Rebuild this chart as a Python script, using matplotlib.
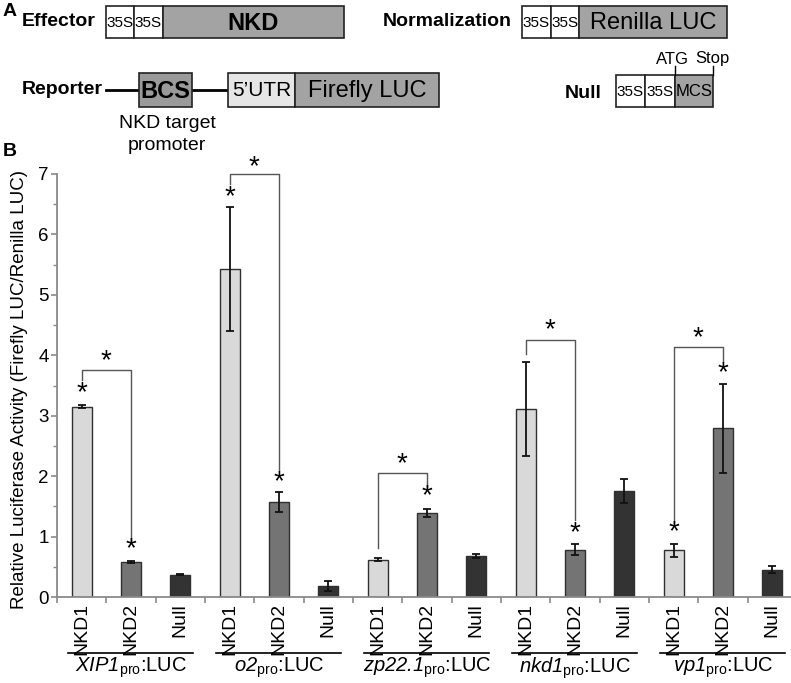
import numpy as np
import matplotlib
matplotlib.use("Agg")
from matplotlib import pyplot as plt
from matplotlib.patches import Rectangle

plt.rcParams['font.family'] = ['Liberation Sans', 'DejaVu Sans']
plt.rcParams['mathtext.fontset'] = 'custom'
plt.rcParams['mathtext.rm'] = 'Liberation Sans'
plt.rcParams['mathtext.sf'] = 'Liberation Sans:italic'

# ---- data ----
promoters = [r'$\mathsf{XIP1}_{\mathrm{pro}}$:LUC', r'$\mathsf{o2}_{\mathrm{pro}}$:LUC',
             r'$\mathsf{zp22.1}_{\mathrm{pro}}$:LUC', r'$\mathsf{nkd1}_{\mathrm{pro}}$:LUC',
             r'$\mathsf{vp1}_{\mathrm{pro}}$:LUC']
effectors = ['NKD1', 'NKD2', 'Null']
nkd1_vals = [3.15, 5.43, 0.62, 3.11, 0.77]
nkd1_err = [0.03, 1.02, 0.03, 0.78, 0.11]
nkd2_vals = [0.58, 1.57, 1.39, 0.78, 2.79]
nkd2_err = [0.02, 0.17, 0.06, 0.09, 0.74]
null_vals = [0.37, 0.18, 0.68, 1.75, 0.45]
null_err = [0.01, 0.08, 0.03, 0.20, 0.06]
bar_colors = ['#d9d9d9', '#747474', '#333333']

# significance: (left bar, right bar, bracket top, left leg end, right leg end)
brackets = [(0, 1, 3.75, 3.59, 0.91), (3, 4, 7.0, 6.84, 2.10), (6, 7, 2.05, 0.81, 1.82),
            (9, 10, 4.26, 4.02, 1.27), (12, 13, 4.13, 1.22, 3.89)]
star_bars = [0, 1, 3, 4, 7, 10, 12, 13]
star_y = [3.37, 0.79, 6.62, 1.90, 1.66, 1.06, 1.08, 3.71]
top_star_y = [3.90, 7.12, 2.20, 4.41, 4.28]

W, H = 791, 683
fig = plt.figure(figsize=(W / 100, H / 100), dpi=100)

# ---- panel B: bar chart ----
ax = fig.add_axes([57 / W, (H - 597) / H, 740 / W, 423 / H])
ax.patch.set_alpha(0)
vals = np.array([nkd1_vals, nkd2_vals, null_vals]).T.ravel()
errs = np.array([nkd1_err, nkd2_err, null_err]).T.ravel()
cols = bar_colors * len(promoters)
x = np.arange(len(vals))
ax.bar(x, vals, width=0.41, color=cols, edgecolor='#303030', linewidth=1.0, zorder=2)
ax.errorbar(x, vals, yerr=errs, fmt='none', ecolor='#111111', elinewidth=1.3,
            capsize=3, capthick=1.3, zorder=3)

ax.set_xlim(-0.5, len(vals) - 0.5)
ax.set_ylim(0, 7)
for s in ['top', 'right']:
    ax.spines[s].set_visible(False)
for s in ['left', 'bottom']:
    ax.spines[s].set_color('#8a8a8a')
    ax.spines[s].set_linewidth(1.3)
ax.set_yticks(range(8))
ax.set_yticks(np.arange(0.5, 7, 1), minor=True)
ax.tick_params(axis='y', which='major', length=4, width=1.2, color='#8a8a8a', pad=2, labelsize=13.5)
ax.tick_params(axis='y', which='minor', length=3, width=1.0, color='#8a8a8a')
ax.set_xticks(np.arange(-0.5, len(vals), 1))
ax.set_xticklabels([])
ax.tick_params(axis='x', which='major', length=4, width=1.2, color='#8a8a8a')
for i in x:
    ax.text(i, -0.015, effectors[i % 3], transform=ax.get_xaxis_transform(),
            rotation=90, ha='center', va='top', fontsize=14)
ax.set_ylabel('Relative Luciferase Activity (Firefly LUC/Renilla LUC)', fontsize=13.5)
ax.yaxis.set_label_coords((28 - 57) / 740, 0.49)

for g, name in enumerate(promoters):
    c0 = 3 * g
    ax.plot([c0 - 0.28, c0 + 2.25], [-0.132, -0.132], color='black', lw=1.2,
            transform=ax.get_xaxis_transform(), clip_on=False)
    ax.text(c0 + 1, -0.168, name, transform=ax.get_xaxis_transform(),
            ha='center', va='center', fontsize=14.5)

for a, b, top, ya, yb in brackets:
    ax.plot([a, a, b, b], [ya, top, top, yb], color='#555555', lw=1.0, zorder=1, clip_on=False)
for b, y in zip(star_bars, star_y):
    ax.text(b, y, '*', ha='center', va='center', fontsize=20, zorder=4)
for (a, b, top, ya, yb), y in zip(brackets, top_star_y):
    ax.text((a + b) / 2, y, '*', ha='center', va='center', fontsize=20, zorder=4, clip_on=False)

# ---- panel A: construct diagrams (pixel coordinates) ----
da = fig.add_axes([0, 0, 1, 1], zorder=-1)
da.set_xlim(0, W)
da.set_ylim(H, 0)
da.axis('off')


def box(x0, x1, y0, y1, fc, label, fs, bold=False):
    da.add_patch(Rectangle((x0, y0), x1 - x0, y1 - y0, fc=fc, ec='#222222', lw=1.2, zorder=2))
    da.text((x0 + x1) / 2, (y0 + y1) / 2 + 1, label, ha='center', va='center', fontsize=fs,
            fontweight='bold' if bold else 'normal', zorder=3)


fig.text(3 / W, 1 - 11 / H, 'A', fontsize=14, fontweight='bold', va='center')
fig.text(3 / W, 1 - 152 / H, 'B', fontsize=14, fontweight='bold', va='center')

da.text(22, 21, 'Effector', fontsize=14, fontweight='bold', va='center')
box(106, 134, 6, 38, 'white', '35S', 11)
box(134, 163, 6, 38, 'white', '35S', 11)
box(163, 344, 6, 38, '#a3a3a3', 'NKD', 17, bold=True)

da.text(22, 90, 'Reporter', fontsize=14, fontweight='bold', va='center')
da.plot([106, 228], [90, 90], color='black', lw=2, zorder=1)
box(139, 192, 73, 107, '#9a9a9a', 'BCS', 17, bold=True)
box(228, 295, 73, 107, '#e6e6e6', "5\u2019UTR", 15)
box(295, 439, 73, 107, '#a3a3a3', 'Firefly LUC', 17)
da.text(167, 123, 'NKD target', fontsize=14, ha='center', va='center')
da.text(167, 145, 'promoter', fontsize=14, ha='center', va='center')

da.text(512, 21, 'Normalization', fontsize=14, fontweight='bold', va='center', ha='right')
box(522, 551, 6, 38, 'white', '35S', 11)
box(551, 579, 6, 38, 'white', '35S', 11)
box(579, 727, 6, 38, '#a3a3a3', 'Renilla LUC', 17)

da.text(565, 93, 'Null', fontsize=14, fontweight='bold', va='center')
box(616, 645, 75, 107, 'white', '35S', 11)
box(645, 675, 75, 107, 'white', '35S', 11)
box(675, 713, 75, 107, '#a3a3a3', 'MCS', 12)
da.plot([675, 675], [66, 75], color='black', lw=1)
da.plot([713, 713], [66, 75], color='black', lw=1)
da.text(672, 59, 'ATG', fontsize=12, ha='center', va='center')
da.text(712, 59, 'Stop', fontsize=12, ha='center', va='center')

fig.savefig('out.png', dpi=100)
